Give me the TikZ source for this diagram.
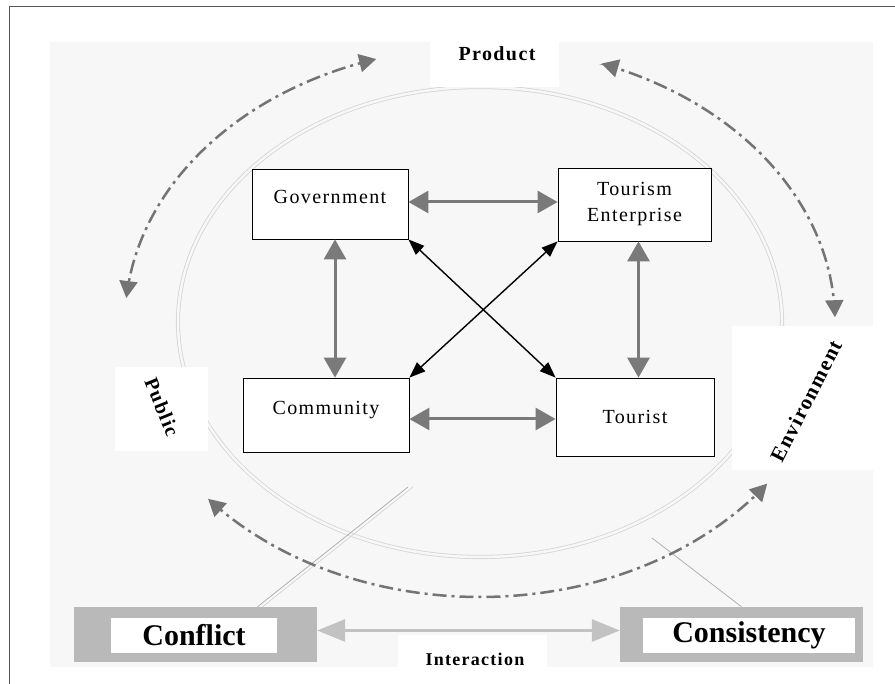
\documentclass[tikz,border=0pt]{standalone}
\usepackage{fontspec}
\setmainfont{Liberation Serif}
\newfontfamily\spacedfont[LetterSpace=7]{Liberation Serif}
\usetikzlibrary{arrows.meta,backgrounds}
\definecolor{bggray}{HTML}{F7F7F7}
\definecolor{framegray}{HTML}{555555}
\definecolor{ringgray}{HTML}{D4D4D4}
\definecolor{linkgray}{HTML}{7A7A7A}
\definecolor{arcgray}{HTML}{747474}
\definecolor{boxgray}{HTML}{B9B9B9}
\definecolor{flowgray}{HTML}{C2C2C2}

\begin{document}
\begin{tikzpicture}[x=1pt,y=-1pt,
	actor/.style={draw, fill=white, line width=0.8pt, inner sep=0pt, align=center, font=\spacedfont\fontsize{20}{26}\selectfont},
	actortop/.style={actor, text height=10pt, text depth=10pt},
	mutual/.style={draw=linkgray, line width=3pt, {Triangle[length=20pt,width=22pt]}-{Triangle[length=20pt,width=22pt]}},
	diag/.style={draw=black, line width=1.4pt, {Triangle[length=16pt,width=12pt]}-{Triangle[length=16pt,width=12pt]}},
	orbit/.style={draw=arcgray, line width=2.5pt, dash pattern=on 14pt off 5pt on 3pt off 5pt, {Triangle[length=17pt,width=18pt]}-{Triangle[length=17pt,width=18pt]}},
	facet/.style={inner sep=0pt, font=\spacedfont\bfseries\fontsize{20}{24}\selectfont},
	outcome/.style={fill=boxgray, inner sep=0pt, minimum width=243pt, minimum height=55pt},
	verdict/.style={fill=white, inner sep=0pt, minimum height=35pt, font=\bfseries\fontsize{30}{32}\selectfont}
]
	%Centre of the rings and the radii
	%inner ring: \rin x \rinv, dash-dot orbit: \rout x \routv
	\pgfmathsetmacro{\cx}{480}
	\pgfmathsetmacro{\cy}{322}
	\pgfmathsetmacro{\rin}{302}
	\pgfmathsetmacro{\rinv}{235}
	\pgfmathsetmacro{\rout}{355}
	\pgfmathsetmacro{\routv}{275}

	\useasboundingbox (0,0) rectangle (895,684);

	%Frame and background
	\fill[white] (0,0) rectangle (895,684);
	\draw[framegray, line width=1pt] (9,684) -- (9,7) -- (895,7);
	\fill[bggray] (50,42) rectangle (873,667);

	%The double ring
	\draw[ringgray, line width=0.8pt, double=bggray, double distance=2.5pt] (\cx,\cy) ellipse [x radius=\rin, y radius=\rinv];

	%Outcome boxes
	\node[outcome] (conflictbox) at (195.5,634.5) {};
	\node[verdict, minimum width=166pt] (conflict) at (194,635.5) {Conflict};
	\node[outcome] (consistencybox) at (741.5,634.5) {};
	\node[verdict, minimum width=212pt] (consistency) at (749,635.5) {Consistency};

	%Thin lines up to the ring
	\coordinate (conflictend) at (408,487);
	\coordinate (consistencyend) at (652,538);
	\draw[ringgray!80!black, line width=0.7pt] ([xshift=62pt]conflictbox.north) -- (conflictend);
	\draw[ringgray, line width=0.7pt] ([xshift=67pt]conflictbox.north) -- ([xshift=5pt]conflictend);
	\draw[ringgray!80!black, line width=0.7pt] (consistencybox.north) -- (consistencyend);

	%White patches behind the labels
	\fill[white] (430,42) rectangle (559,87);
	\fill[white] (732,326) rectangle (873,470);
	\fill[white] (115,367) rectangle (208,451);
	\fill[white] (398,635) rectangle (547,667);

	%Dash-dot orbits
	\draw[orbit] plot[domain=185:253, samples=40, smooth, variable=\t] ({\cx+\rout*cos(\t)}, {\cy+\routv*sin(\t)});
	\draw[orbit] plot[domain=290:359, samples=40, smooth, variable=\t] ({\cx+\rout*cos(\t)}, {\cy+\routv*sin(\t)});
	\draw[orbit] plot[domain=36:140, samples=60, smooth, variable=\t] ({\cx+\rout*cos(\t)}, {\cy+\routv*sin(\t)});

	%Labels
	\node[facet] (product) at (497,54) {Product};
	\node[facet, rotate=-68] (public) at (162,407) {Public};
	\node[facet, rotate=63, font=\spacedfont\bfseries\fontsize{21}{24}\selectfont] (environment) at (806,401) {Environment};
	\node[facet, font=\spacedfont\bfseries\fontsize{18}{22}\selectfont] (interaction) at (475,659) {Interaction};

	%The four actors
	\node[actortop, minimum width=156pt, minimum height=70pt] (gov) at (330,204) {Government};
	\node[actor, minimum width=153pt, minimum height=73pt] (te) at (634.5,204.5) {Tourism\\Enterprise};
	\node[actortop, minimum width=166pt, minimum height=74pt] (comm) at (326,415) {Community};
	\node[actor, minimum width=158pt, minimum height=78pt] (tourist) at (635,417) {Tourist};

	%Links between the actors
	\draw[mutual] ([yshift=2pt]gov.east) -- ([yshift=2pt]gov.east -| te.west);
	\draw[mutual] ([xshift=5pt]gov.south) -- ([xshift=5pt]gov.south |- comm.north);
	\draw[mutual] ([xshift=4pt]te.south) -- ([xshift=4pt]te.south |- tourist.north);
	\draw[mutual] ([yshift=-4pt]comm.east) -- ([yshift=-4pt]comm.east -| tourist.west);
	\draw[diag] (gov.south east) -- (tourist.north west);
	\draw[diag] (te.south west) -- (comm.north east);

	%Interaction between the outcomes
	\draw[draw=flowgray, line width=3pt, {Triangle[length=28pt,width=22pt]}-{Triangle[length=28pt,width=22pt]}] ([yshift=4pt]conflictbox.east) -- ([yshift=4pt]consistencybox.west);
\end{tikzpicture}
\end{document}
